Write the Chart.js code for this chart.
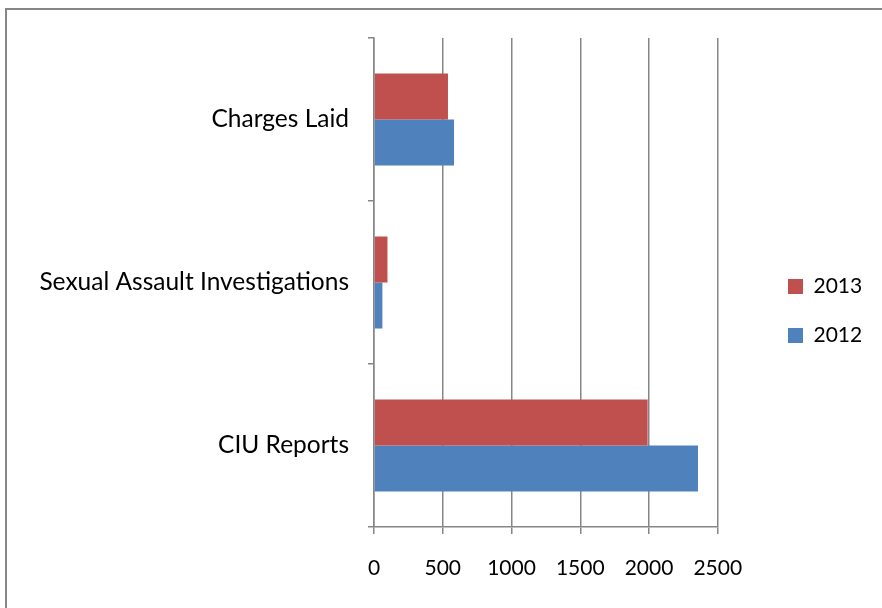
<!DOCTYPE html>
<html>
<head>
<meta charset="utf-8">
<script src="https://cdn.jsdelivr.net/npm/chart.js@4.4.0/dist/chart.umd.min.js"></script>
<style>
  html, body { margin: 0; padding: 0; background: #fff; }
  #wrap { position: relative; width: 882px; height: 608px; overflow: hidden; }
  #frame { position: absolute; left: 5px; top: 8px; width: 900px; height: 700px; border: 2px solid #868686; box-sizing: border-box; }
  canvas { position: absolute; left: 0; top: 0; }
</style>
</head>
<body>
<div id="wrap">
  <div id="frame"></div>
  <canvas id="chart" width="882" height="608"></canvas>
</div>
<script>
var categories = ['Charges Laid', 'Sexual Assault Investigations', 'CIU Reports'];
var years = ['2013', '2012'];
var values2013 = [538, 98, 1990];
var values2012 = [582, 61, 2356];
var xTicks = [0, 500, 1000, 1500, 2000, 2500];

var gridColor = '#868686';
var family = 'Lato, "Open Sans", sans-serif';

// keep the legend where the original one sits, right of the plot
var legendSpot = {
  id: 'legendSpot',
  afterLayout: function (chart) {
    var lg = chart.legend;
    var w = lg.right - lg.left;
    lg.left = 760;
    lg.right = lg.left + w;
    lg.top -= 12;
    lg.bottom -= 12;
  }
};

new Chart(document.getElementById('chart'), {
  type: 'bar',
  data: {
    labels: categories,
    datasets: [
      { label: years[0], data: values2013, backgroundColor: '#C0504D', categoryPercentage: 0.565, barPercentage: 1 },
      { label: years[1], data: values2012, backgroundColor: '#4F81BD', categoryPercentage: 0.565, barPercentage: 1 }
    ]
  },
  plugins: [legendSpot],
  options: {
    indexAxis: 'y',
    responsive: false,
    animation: false,
    layout: { padding: { top: 38, left: 10, right: 52, bottom: 0 } },
    plugins: {
      tooltip: { enabled: false },
      legend: {
        position: 'right',
        labels: { color: '#000', font: { family: family, size: 21 }, boxWidth: 15, boxHeight: 15, padding: 28 }
      }
    },
    scales: {
      x: {
        min: xTicks[0],
        max: xTicks[xTicks.length - 1],
        afterBuildTicks: function (axis) { axis.ticks = xTicks.map(function (v) { return { value: v }; }); },
        afterFit: function (axis) { axis.height = 81; },
        grid: { color: gridColor, lineWidth: 1.5, tickLength: 7 },
        border: { color: gridColor, width: 1.5 },
        ticks: {
          color: '#000', font: { family: family, size: 21 }, padding: 22, maxRotation: 0,
          callback: function (v) { return String(v); }
        }
      },
      y: {
        afterFit: function (axis) { axis.width = 364; },
        grid: { offset: true, drawOnChartArea: false, color: gridColor, lineWidth: 1.5, tickLength: 6 },
        border: { color: gridColor, width: 1.5 },
        ticks: { color: '#000', font: { family: family, size: 24.5 }, padding: 19 }
      }
    }
  }
});
</script>
</body>
</html>
